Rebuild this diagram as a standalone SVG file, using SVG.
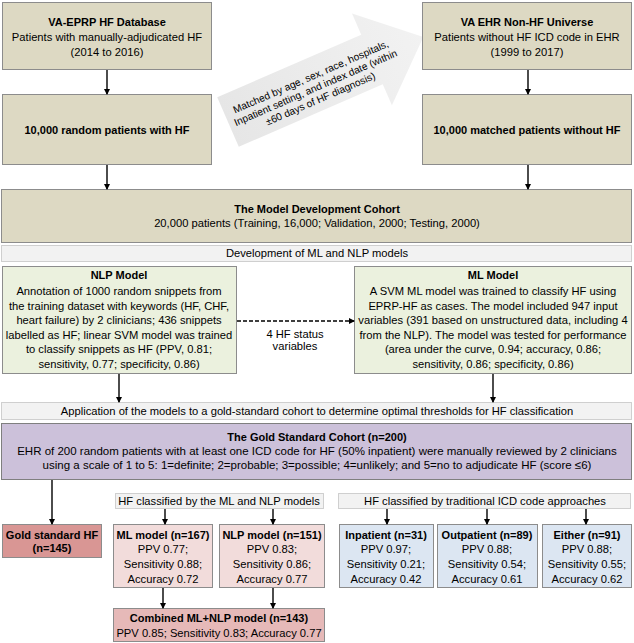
<svg xmlns="http://www.w3.org/2000/svg" width="634" height="643" viewBox="0 0 634 643">
<defs>
<marker id="ah" markerWidth="6" markerHeight="6" refX="5" refY="3" orient="auto" markerUnits="userSpaceOnUse">
<path d="M0,0 L6,3 L0,6 Z" fill="#000"/>
</marker>
<linearGradient id="ag" x1="0" y1="0" x2="1" y2="0">
<stop offset="0" stop-color="#e6e6e6"/>
<stop offset="1" stop-color="#f2f2f2"/>
</linearGradient>
<style>
text{font-family:"Liberation Sans",Arial,sans-serif;font-size:11.2px;fill:#000;text-anchor:middle}
.b{font-weight:bold;font-size:11px}
.tan{fill:#ddd9c3;stroke:#8c8c8c;stroke-width:1}
.grn{fill:#ebf1de;stroke:#8c8c8c;stroke-width:1}
.pur{fill:#ccc1da;stroke:#7f7f7f;stroke-width:1}
.red{fill:#d99694;stroke:#8c8c8c;stroke-width:1}
.pnk{fill:#f2dcdb;stroke:#8c8c8c;stroke-width:1}
.cmb{fill:#e6b9b8;stroke:#8c8c8c;stroke-width:1}
.blu{fill:#dce6f2;stroke:#8c8c8c;stroke-width:1}
.dot{fill:#f2f2f2;stroke:#a6a6a6;stroke-width:1;stroke-dasharray:1,1}
.at{font-size:10.2px}
.c line{stroke:#000;stroke-width:1.4;marker-end:url(#ah)}
</style>
</defs>

<g id="match-arrow">
<polygon transform="translate(228,122) rotate(-23.5)" points="0,-27 157,-27 157,-50 213,0 157,50 157,27 0,27" fill="url(#ag)"/>
<g transform="translate(228,122) rotate(-23.5)">
<text class="at" x="94" y="-5">Matched by age, sex, race, hospitals,</text>
<text class="at" x="94" y="7">Inpatient setting, and index date (within</text>
<text class="at" x="94" y="19">±60 days of HF diagnosis)</text>
</g>
</g>

<g id="eprp">
<rect class="tan" x="2.5" y="2.5" width="209" height="67"/>
<text class="b" x="107" y="26">VA-EPRP HF Database</text>
<text x="107" y="41">Patients with manually-adjudicated HF</text>
<text x="107" y="56">(2014 to 2016)</text>
</g>
<g id="random-hf">
<rect class="tan" x="2.5" y="94.5" width="209" height="70"/>
<text class="b" x="107" y="134">10,000 random patients with HF</text>
</g>
<g id="nonhf">
<rect class="tan" x="422.5" y="2.5" width="209" height="67"/>
<text class="b" x="527" y="26">VA EHR Non-HF Universe</text>
<text x="527" y="41">Patients without HF ICD code in EHR</text>
<text x="527" y="56">(1999 to 2017)</text>
</g>
<g id="matched">
<rect class="tan" x="422.5" y="94.5" width="209" height="70"/>
<text class="b" x="527" y="134">10,000 matched patients without HF</text>
</g>
<g id="cohort">
<rect class="tan" x="1.5" y="189.5" width="630" height="53"/>
<text class="b" x="317" y="213">The Model Development Cohort</text>
<text x="317" y="227">20,000 patients (Training, 16,000; Validation, 2000; Testing, 2000)</text>
</g>
<g id="dev">
<rect class="dot" x="1.5" y="245.5" width="630" height="16"/>
<text x="317" y="257">Development of ML and NLP models</text>
</g>
<g id="nlp">
<rect class="grn" x="2.5" y="266.5" width="234" height="107"/>
<text class="b" x="119" y="279">NLP Model</text>
<text x="119" y="295">Annotation of 1000 random snippets from</text>
<text x="119" y="310">the training dataset with keywords (HF, CHF,</text>
<text x="119" y="324">heart failure) by 2 clinicians; 436 snippets</text>
<text x="119" y="339">labelled as HF; linear SVM model was trained</text>
<text x="119" y="353">to classify snippets as HF (PPV, 0.81;</text>
<text x="119" y="368">sensitivity, 0.77; specificity, 0.86)</text>
</g>
<g id="ml">
<rect class="grn" x="354.5" y="266.5" width="277" height="107"/>
<text class="b" x="493" y="279">ML Model</text>
<text x="493" y="295">A SVM ML model was trained to classify HF using</text>
<text x="493" y="310">EPRP-HF as cases. The model included 947 input</text>
<text x="493" y="324">variables (391 based on unstructured data, including 4</text>
<text x="493" y="339">from the NLP). The model was tested for performance</text>
<text x="493" y="353">(area under the curve, 0.94; accuracy, 0.86;</text>
<text x="493" y="368">sensitivity, 0.86; specificity, 0.86)</text>
</g>
<g id="hf-status-label">
<text x="295" y="338">4 HF status</text>
<text x="295" y="350">variables</text>
</g>
<g id="application">
<rect class="dot" x="1.5" y="402.5" width="630" height="17"/>
<text x="317" y="415">Application of the models to a gold-standard cohort to determine optimal thresholds for HF classification</text>
</g>
<g id="gold-cohort">
<rect class="pur" x="1.5" y="423.5" width="630" height="56"/>
<text class="b" x="317" y="441">The Gold Standard Cohort (n=200)</text>
<text x="317" y="455" style="font-size:11.5px">EHR of 200 random patients with at least one ICD code for HF (50% inpatient) were manually reviewed by 2 clinicians</text>
<text x="317" y="469" style="font-size:11.5px">using a scale of 1 to 5: 1=definite; 2=probable; 3=possible; 4=unlikely; and 5=no to adjudicate HF (score ≤6)</text>
</g>
<g id="ml-nlp-header">
<rect class="dot" x="115.5" y="493.5" width="208" height="15"/>
<text x="219" y="505">HF classified by the ML and NLP models</text>
</g>
<g id="icd-header">
<rect class="dot" x="338.5" y="493.5" width="292" height="15"/>
<text x="485" y="505">HF classified by traditional ICD code approaches</text>
</g>
<g id="gold-hf">
<rect class="red" x="2.5" y="524.5" width="99" height="33"/>
<text class="b" x="52" y="539">Gold standard HF</text>
<text class="b" x="52" y="552">(n=145)</text>
</g>
<g id="ml-res">
<rect class="pnk" x="113.5" y="524.5" width="99" height="63"/>
<text class="b" x="163" y="539">ML model (n=167)</text>
<text x="163" y="553">PPV 0.77;</text>
<text x="163" y="568">Sensitivity 0.88;</text>
<text x="163" y="583">Accuracy 0.72</text>
</g>
<g id="nlp-res">
<rect class="pnk" x="219.5" y="524.5" width="105" height="63"/>
<text class="b" x="272" y="539">NLP model (n=151)</text>
<text x="272" y="553">PPV 0.83;</text>
<text x="272" y="568">Sensitivity 0.86;</text>
<text x="272" y="583">Accuracy 0.77</text>
</g>
<g id="combined">
<rect class="cmb" x="113.5" y="608.5" width="211" height="33"/>
<text class="b" x="219" y="622">Combined ML+NLP model (n=143)</text>
<text x="219" y="637">PPV 0.85; Sensitivity 0.83; Accuracy 0.77</text>
</g>
<g id="inpatient">
<rect class="blu" x="339.5" y="524.5" width="94" height="63"/>
<text class="b" x="386" y="539">Inpatient (n=31)</text>
<text x="386" y="553">PPV 0.97;</text>
<text x="386" y="568">Sensitivity 0.21;</text>
<text x="386" y="583">Accuracy 0.42</text>
</g>
<g id="outpatient">
<rect class="blu" x="437.5" y="524.5" width="100" height="63"/>
<text class="b" x="487" y="539">Outpatient (n=89)</text>
<text x="487" y="553">PPV 0.88;</text>
<text x="487" y="568">Sensitivity 0.54;</text>
<text x="487" y="583">Accuracy 0.61</text>
</g>
<g id="either">
<rect class="blu" x="542.5" y="524.5" width="89" height="63"/>
<text class="b" x="587" y="539">Either (n=91)</text>
<text x="587" y="553">PPV 0.88;</text>
<text x="587" y="568">Sensitivity 0.55;</text>
<text x="587" y="583">Accuracy 0.62</text>
</g>

<g id="connectors" class="c">
<line x1="107" y1="70" x2="107" y2="94"/>
<line x1="528" y1="70" x2="528" y2="94"/>
<line x1="107" y1="165" x2="107" y2="189"/>
<line x1="528" y1="165" x2="528" y2="189"/>
<line x1="237" y1="321" x2="354" y2="321" style="stroke-dasharray:4,2"/>
<line x1="119" y1="374" x2="119" y2="402"/>
<line x1="493" y1="374" x2="493" y2="402"/>
<line x1="52" y1="480" x2="52" y2="524"/>
<line x1="165" y1="509" x2="165" y2="524"/>
<line x1="273" y1="509" x2="273" y2="524"/>
<line x1="387" y1="509" x2="387" y2="524"/>
<line x1="487" y1="509" x2="487" y2="524"/>
<line x1="586" y1="509" x2="586" y2="524"/>
<line x1="163" y1="588" x2="163" y2="608"/>
<line x1="273" y1="588" x2="273" y2="608"/>
</g>
</svg>
